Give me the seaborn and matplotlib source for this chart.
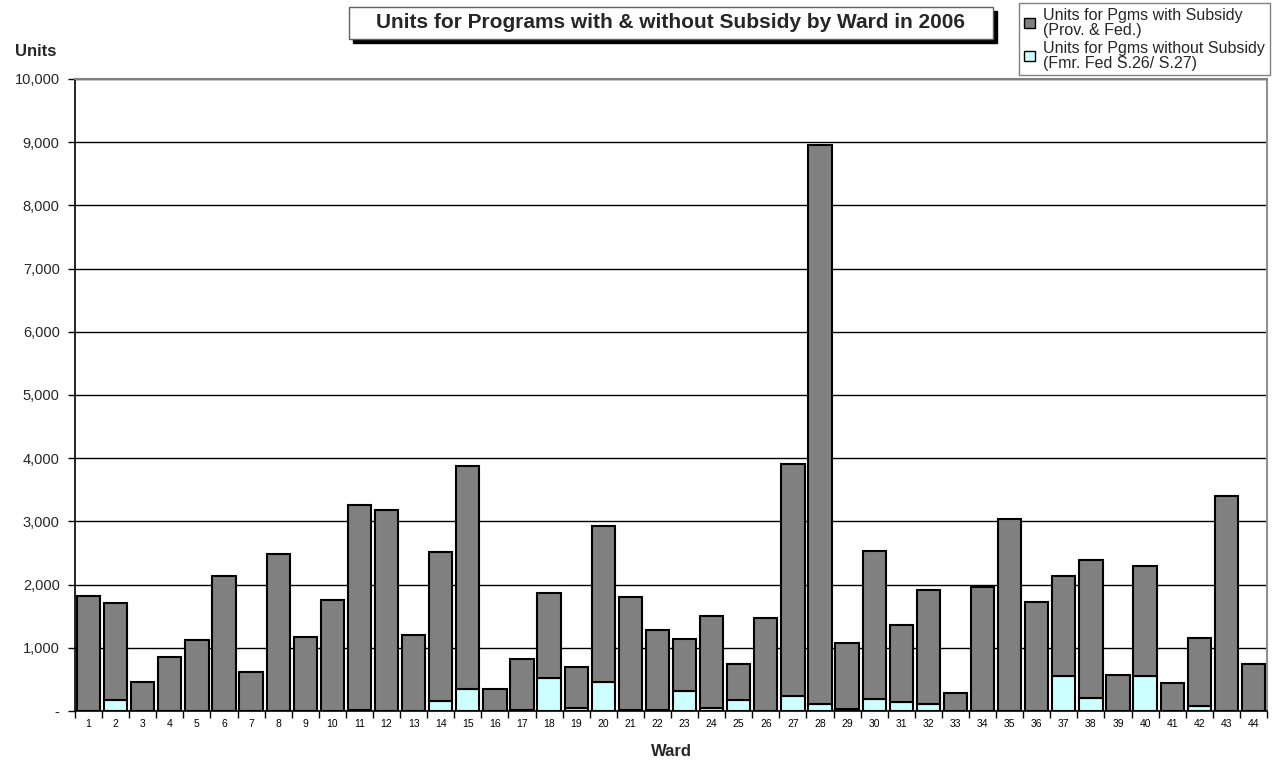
import numpy as np
import matplotlib
matplotlib.use("Agg")
import matplotlib.pyplot as plt
from matplotlib.patches import Rectangle, Patch
from matplotlib.ticker import FuncFormatter
import seaborn as sns

wards = [str(i) for i in range(1, 45)]
without_subsidy = [0, 175, 0, 0, 0, 0, 0, 0, 0, 0, 20, 5, 5, 164, 351, 0, 15, 526, 50, 451,
                   20, 10, 324, 40, 175, 0, 234, 107, 35, 191, 148, 112, 0, 0, 0, 0, 547, 212,
                   0, 553, 0, 80, 0, 0]
with_subsidy = [1815, 1536, 458, 856, 1121, 2131, 611, 2485, 1174, 1763, 3233, 3169, 1201, 2357,
                3529, 356, 814, 1343, 641, 2470, 1786, 1273, 814, 1468, 563, 1468, 3678, 8844,
                1038, 2335, 1220, 1809, 287, 1964, 3043, 1721, 1584, 2178, 563, 1747, 442, 1073,
                3406, 745]
y_ticks = list(range(0, 10001, 1000))

title = "Units for Programs with & without Subsidy by Ward in 2006"
label_with = "Units for Pgms with Subsidy\n(Prov. & Fed.)"
label_without = "Units for Pgms without Subsidy\n(Fmr. Fed S.26/ S.27)"
col_with = "#808080"
col_without = "#CCFFFF"

sns.set_theme(style="white")
plt.rcParams["font.family"] = ["Liberation Sans", "DejaVu Sans"]

W, H = 1275, 762
fig = plt.figure(figsize=(W / 100, H / 100), dpi=100)
ax = fig.add_axes([75 / W, 51 / H, 1192 / W, 632 / H])

sns.barplot(x=wards, y=without_subsidy, color=col_without, saturation=1, width=0.86,
            edgecolor="black", linewidth=1.5, errorbar=None, ax=ax, zorder=3)
sns.barplot(x=wards, y=with_subsidy, bottom=without_subsidy, color=col_with, saturation=1,
            width=0.86, edgecolor="black", linewidth=1.5, errorbar=None, ax=ax, zorder=3)

ax.set_xlim(-0.5, len(wards) - 0.5)
ax.set_ylim(0, 10000)
ax.set_yticks(y_ticks)
ax.yaxis.set_major_formatter(FuncFormatter(lambda v, p: "-" if v == 0 else f"{int(v):,}"))
ax.yaxis.grid(True, color="black", linewidth=1)
ax.xaxis.grid(False)
ax.set_axisbelow(True)

ax.set_xticks(np.arange(-0.5, len(wards), 1), minor=True)
ax.tick_params(axis="x", which="major", length=0, labelsize=7.5, pad=6, colors="black")
ax.tick_params(axis="x", which="minor", length=5, width=1, color="black", direction="out", bottom=True)
ax.tick_params(axis="y", which="major", length=5, width=1, color="black", direction="out",
               left=True, labelsize=10.5, pad=6)

ax.set_xlabel("")
ax.set_ylabel("")
ax.spines["left"].set_color("black")
ax.spines["left"].set_linewidth(1.2)
ax.spines["bottom"].set_color("black")
ax.spines["bottom"].set_linewidth(1.2)
ax.spines["top"].set_color("#808080")
ax.spines["top"].set_linewidth(1.5)
ax.spines["right"].set_color("#909090")
ax.spines["right"].set_linewidth(1.5)

fig.text(15 / W, 1 - 52 / H, "Units", fontsize=12, fontweight="bold", va="center", ha="left")
fig.text(671 / W, 1 - 752 / H, "Ward", fontsize=12, fontweight="bold", va="center", ha="center")

# title box with shadow
bx0, by0, bx1, by1 = 349, 7, 993, 39
fig.patches.append(Rectangle(((bx0 + 4) / W, 1 - (by1 + 4) / H), (bx1 - bx0) / W, (by1 - by0) / H,
                             transform=fig.transFigure, facecolor="black", edgecolor="black", zorder=1))
fig.patches.append(Rectangle((bx0 / W, 1 - by1 / H), (bx1 - bx0) / W, (by1 - by0) / H,
                             transform=fig.transFigure, facecolor="white", edgecolor="#606060",
                             linewidth=1, zorder=2))
fig.text((bx0 + bx1) / 2 / W, 1 - (by0 + by1) / 2 / H, title, fontsize=15, fontweight="bold",
         ha="center", va="center", zorder=3)

handles = [Patch(facecolor=col_with, edgecolor="black", linewidth=1),
           Patch(facecolor=col_without, edgecolor="black", linewidth=1)]
leg = fig.legend(handles, [label_with, label_without], loc="upper right",
                 bbox_to_anchor=(1270 / W, 1 - 3 / H), fontsize=11.5, frameon=True, fancybox=False,
                 edgecolor="#606060", handlelength=0.65, handleheight=0.65, handletextpad=0.55,
                 borderpad=0.3, labelspacing=0.2, borderaxespad=0)
leg.get_frame().set_linewidth(1)
for t in leg.get_texts():
    t.set_linespacing(0.98)

fig.savefig("out.png", dpi=100, facecolor="white")
